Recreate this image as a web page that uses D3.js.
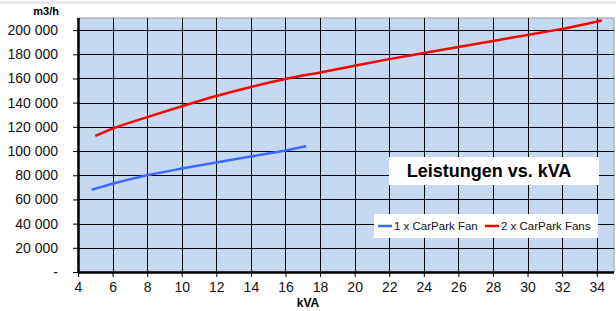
<!DOCTYPE html>
<html>
<head>
<meta charset="utf-8">
<script src="https://cdn.jsdelivr.net/npm/d3@7"></script>
<style>
  body { margin: 0; background: #fff; }
  svg { display: block; font-family: "Liberation Sans", Arial, sans-serif; }
</style>
</head>
<body>
<div id="chart"></div>
<script>
// data
const xTicks = [4, 6, 8, 10, 12, 14, 16, 18, 20, 22, 24, 26, 28, 30, 32, 34];
const yTicks = [0, 20000, 40000, 60000, 80000, 100000, 120000, 140000, 160000, 180000, 200000];

const oneFanKva = [4.8, 6, 8, 10, 12, 14, 16, 17.2];
const oneFanFlow = [68000, 73000, 80000, 85500, 90500, 95500, 100500, 104000];

const twoFansKva = [5, 6, 8, 10, 12, 14, 16, 18, 20, 22, 24, 26, 28, 30, 32, 34.3];
const twoFansFlow = [112500, 118500, 128000, 137000, 145500, 153000, 159500, 165000, 170500, 176000, 181000, 186000, 191000, 196000, 201000, 208000];

const seriesNames = ["1 x CarPark Fan", "2 x CarPark Fans"];
const seriesColors = ["#3b6cff", "#ff0000"];

const W = 616, H = 311;
const margin = { top: 18, right: 2, bottom: 39, left: 78 };

const svg = d3.select("#chart").append("svg")
    .attr("width", W)
    .attr("height", H);

// thin grey band at the very top
svg.append("rect").attr("x", 0).attr("y", 1).attr("width", W).attr("height", 3).attr("fill", "#e8e8e8");

const x = d3.scaleLinear().domain([4, 35]).range([margin.left, W - margin.right]);
const y = d3.scaleLinear().domain([0, 210000]).range([H - margin.bottom, margin.top]);

// plot background
svg.append("rect")
    .attr("x", x(4)).attr("y", y(210000))
    .attr("width", x(35) - x(4)).attr("height", y(0) - y(210000))
    .attr("fill", "#c6d9f0")
    .attr("stroke", "#9a9a9a");

// grid
const grid = svg.append("g").attr("stroke", "#000").attr("stroke-width", 1);
grid.selectAll(".gx").data(xTicks.slice(1)).join("line")
    .attr("x1", d => Math.round(x(d)) + 0.5).attr("x2", d => Math.round(x(d)) + 0.5)
    .attr("y1", y(210000)).attr("y2", y(0));
grid.selectAll(".gy").data(yTicks.slice(1)).join("line")
    .attr("x1", x(4)).attr("x2", x(35))
    .attr("y1", d => Math.round(y(d)) + 0.5).attr("y2", d => Math.round(y(d)) + 0.5);

// axes
const fmt = d => d === 0 ? "-" : d3.format(",")(d).replace(/,/g, " ");

const yAxis = svg.append("g")
    .attr("transform", `translate(${x(4)},0)`)
    .call(d3.axisLeft(y).tickValues(yTicks).tickSize(5).tickPadding(15).tickFormat(fmt));
yAxis.selectAll("text").attr("font-size", 14).attr("fill", "#111").attr("font-family", "Liberation Sans, Arial, sans-serif");
yAxis.select(".domain").attr("stroke-width", 2.5).attr("d", `M0.5,${y(210000)}V${y(0)}`);

const xAxis = svg.append("g")
    .attr("transform", `translate(0,${y(0)})`)
    .call(d3.axisBottom(x).tickValues(xTicks).tickSize(5).tickPadding(5));
xAxis.selectAll("text").attr("font-size", 14).attr("fill", "#111").attr("font-family", "Liberation Sans, Arial, sans-serif");
xAxis.select(".domain").attr("stroke-width", 2.5).attr("d", `M${x(4)},0.5H${x(35)}`);

// axis titles
svg.append("text").attr("x", 59).attr("y", 15).attr("text-anchor", "end")
    .attr("font-size", 11).attr("font-weight", "bold").text("m3/h");
svg.append("text").attr("x", 308).attr("y", 307).attr("text-anchor", "middle")
    .attr("font-size", 12).attr("font-weight", "bold").text("kVA");

// lines
const line = d3.line().curve(d3.curveMonotoneX).x(d => x(d[0])).y(d => y(d[1]));
const series = [
    d3.zip(oneFanKva, oneFanFlow),
    d3.zip(twoFansKva, twoFansFlow)
];
svg.selectAll(".series").data(series).join("path")
    .attr("fill", "none")
    .attr("stroke", (d, i) => seriesColors[i])
    .attr("stroke-width", 2.5)
    .attr("d", line);

// title box
svg.append("rect").attr("x", 389).attr("y", 157).attr("width", 210).attr("height", 28).attr("fill", "#fff");
svg.append("text").attr("x", 489).attr("y", 177).attr("text-anchor", "middle")
    .attr("font-size", 18).attr("font-weight", "bold").text("Leistungen vs. kVA");

// legend
svg.append("rect").attr("x", 374).attr("y", 214).attr("width", 224).attr("height", 24).attr("fill", "#fff");
const legendX = [378, 485];
const lg = svg.selectAll(".lg").data(seriesNames).join("g")
    .attr("transform", (d, i) => `translate(${legendX[i]},226)`);
lg.append("line").attr("x1", 0).attr("x2", 14).attr("stroke", (d, i) => seriesColors[i]).attr("stroke-width", 2.5);
lg.append("text").attr("x", 16).attr("y", 4).attr("font-size", 11.5).attr("fill", "#111").text(d => d);
</script>
</body>
</html>
